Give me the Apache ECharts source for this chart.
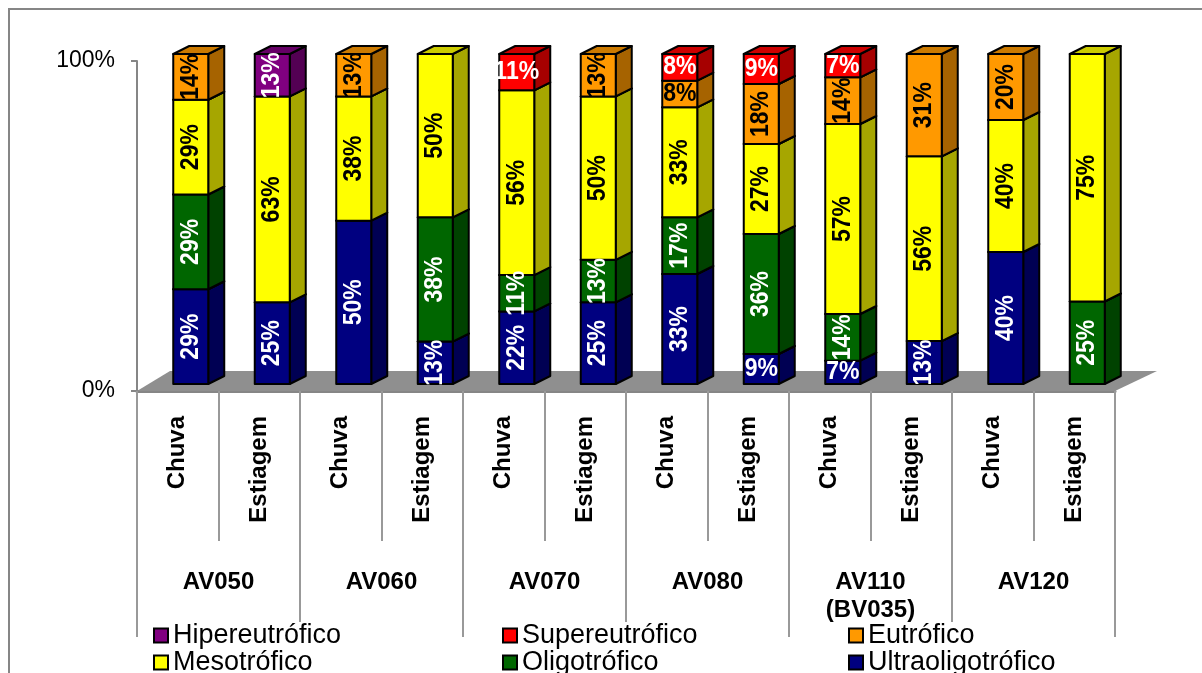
<!DOCTYPE html>
<html><head><meta charset="utf-8">
<style>html,body{margin:0;padding:0;background:#fff}#c{width:1202px;height:673px}</style>
<script src="https://cdn.jsdelivr.net/npm/echarts@6/dist/echarts.min.js"></script>
</head><body><div id="c"></div>
<script>
const seasons = ['Chuva','Estiagem','Chuva','Estiagem','Chuva','Estiagem','Chuva','Estiagem','Chuva','Estiagem','Chuva','Estiagem'];
const stations = ['AV050','AV060','AV070','AV080','AV110\n(BV035)','AV120'];
const ultraoligotrofico = [29,25,50,13,22,25,33,9,7,13,40,null];
const oligotrofico      = [29,null,null,38,11,13,17,36,14,null,null,25];
const mesotrofico       = [29,63,38,50,56,50,33,27,57,56,40,75];
const eutrofico         = [14,null,13,null,null,13,8,18,14,31,20,null];
const supereutrofico    = [null,null,null,null,11,null,8,9,7,null,null,null];
const hipereutrofico    = [null,13,null,null,null,null,null,null,null,null,null,null];
const yTicks = [0,100];

const stackOrder = [
  {name:'Ultraoligotrófico', values:ultraoligotrofico, color:'#000080', side:'#000053', top:'#000066', label:'#fff'},
  {name:'Oligotrófico',      values:oligotrofico,      color:'#006600', side:'#004200', top:'#005200', label:'#fff'},
  {name:'Mesotrófico',       values:mesotrofico,       color:'#FFFF00', side:'#A6A600', top:'#CCCC00', label:'#000'},
  {name:'Eutrófico',         values:eutrofico,         color:'#FF9900', side:'#A66300', top:'#CC7A00', label:'#000'},
  {name:'Supereutrófico',    values:supereutrofico,    color:'#FF0000', side:'#A60000', top:'#CC0000', label:'#fff', flat:true},
  {name:'Hipereutrófico',    values:hipereutrofico,    color:'#800080', side:'#530053', top:'#660066', label:'#fff'}
];
const DX = 13, DY = -7, BAR_W = 35, DEPTH_X = 16, DEPTH_Y = -8;
const totals = seasons.map((_, i) => stackOrder.reduce((s, o) => s + (o.values[i] || 0), 0));
const running = seasons.map(() => 0);

const barSeries = stackOrder.map(o => {
  const data = [];
  o.values.forEach((v, i) => {
    if (v == null) return;
    const a = running[i] / totals[i] * 100;
    running[i] += v;
    data.push([i, a, running[i] / totals[i] * 100, v]);
  });
  return {
    name:o.name, type:'custom', xAxisIndex:0, yAxisIndex:0,
    itemStyle:{color:o.color}, clip:false, z:5,
    encode:{x:0, y:[1,2]},
    data,
    renderItem(params, api){
      const p0 = api.coord([api.value(0), api.value(1)]);
      const p1 = api.coord([api.value(0), api.value(2)]);
      const l = p0[0] + DX - BAR_W/2, r = l + BAR_W, b = p0[1] + DY, t = p1[1] + DY;
      const line = {stroke:'#000', lineWidth:2, lineJoin:'round'};
      const v = api.value(3);
      const flat = o.flat || v < 10;
      return {type:'group', children:[
        {type:'polygon', shape:{points:[[r,b],[r+DEPTH_X,b+DEPTH_Y],[r+DEPTH_X,t+DEPTH_Y],[r,t]]}, style:{fill:o.side, ...line}},
        {type:'polygon', shape:{points:[[l,t],[r,t],[r+DEPTH_X,t+DEPTH_Y],[l+DEPTH_X,t+DEPTH_Y]]}, style:{fill:o.top, ...line}},
        {type:'rect', shape:{x:l,y:t,width:BAR_W,height:b-t}, style:{fill:o.color, ...line}},
        {type:'text', z2:50, x:(l+r)/2, y:(t+b)/2, rotation:flat?0:Math.PI/2, scaleY:1.1,
          style:{text:v+'%', fill:o.label, font:'bold 23px "Liberation Sans"', textAlign:'center', textVerticalAlign:'middle'}}
      ]};
    }
  };
});

const floorSeries = {
  type:'custom', xAxisIndex:0, yAxisIndex:0, silent:true, clip:false, z:1,
  data:[[0,0]], encode:{x:0,y:1},
  renderItem(params, api){
    const c = params.coordSys, y = c.y + c.height, x0 = c.x, x1 = c.x + c.width;
    return {type:'group', children:[
      {type:'polygon', shape:{points:[[x0,y],[x1,y],[x1+42,y-20],[x0+33,y-20]]}, style:{fill:'#8f8f8f'}}
    ]};
  }
};

const legendItem = (left, top, name) => ({
  show:true, left, top, orient:'horizontal', itemGap:0, itemWidth:14, itemHeight:14,
  padding:0, icon:'rect', selectedMode:false, data:[name], z:20,
  itemStyle:{borderColor:'#000', borderWidth:2},
  textStyle:{fontFamily:'Liberation Sans', fontSize:27, color:'#000', lineHeight:27, backgroundColor:'#fff'}
});

const chart = echarts.init(document.getElementById('c'), null, {renderer:'canvas'});
chart.setOption({
  animation:false, backgroundColor:'#fff',
  graphic:[
    {type:'polyline', z:0, shape:{points:[[9,673],[9,9],[1202,9]]}, style:{stroke:'#868686', lineWidth:2, fill:null}}
  ],
  grid:{left:137, right:87, top:61, bottom:282, containLabel:false},
  legend:[
    legendItem(153,622,'Hipereutrófico'), legendItem(153,649,'Mesotrófico'),
    legendItem(502,622,'Supereutrófico'), legendItem(502,649,'Oligotrófico'),
    legendItem(848,622,'Eutrófico'),      legendItem(848,649,'Ultraoligotrófico')
  ],
  xAxis:[
    {type:'category', data:seasons, position:'bottom',
     axisLine:{show:true, lineStyle:{color:'#868686', width:3}},
     axisTick:{show:true, length:150, lineStyle:{color:'#999', width:2}},
     axisLabel:{interval:0, rotate:90, margin:25, padding:[6,0,0,0], fontFamily:'Liberation Sans', fontWeight:'bold', fontSize:24, color:'#000'},
     splitLine:{show:false}},
    {type:'category', data:stations, position:'bottom',
     axisLine:{show:false},
     axisTick:{show:true, length:246, lineStyle:{color:'#999', width:2}},
     axisLabel:{interval:0, margin:177, verticalAlign:'top', lineHeight:28, fontFamily:'Liberation Sans', fontWeight:'bold', fontSize:24, color:'#000'},
     splitLine:{show:false}}
  ],
  yAxis:{type:'value', min:yTicks[0], max:yTicks[1], interval:100,
     axisLine:{show:true, lineStyle:{color:'#868686', width:2}},
     axisTick:{show:true, length:6, lineStyle:{color:'#868686', width:2}},
     axisLabel:{formatter:'{value}%', margin:22, padding:[2,0,0,0], fontFamily:'Liberation Sans', fontSize:23, color:'#000'},
     splitLine:{show:false}},
  series:[floorSeries, ...barSeries]
});
</script></body></html>
